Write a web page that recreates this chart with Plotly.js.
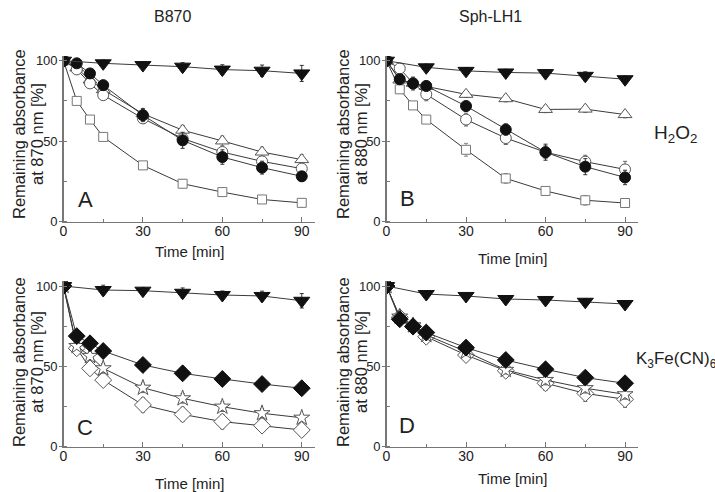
<!DOCTYPE html>
<html>
<head>
<meta charset="utf-8">
<script src="https://cdn.plot.ly/plotly-3.0.1.min.js"></script>
<style>html,body{margin:0;padding:0;background:#fff;}#chart{width:715px;height:492px;}</style>
</head>
<body>
<div id="chart"></div>
<script>
// ---- Data ----
const tFull = [0, 5, 10, 15, 30, 45, 60, 75, 90];
const tCtrl = [0, 15, 30, 45, 60, 75, 90];

// Panel A: B870, H2O2
const A_ctrl  = [100, 98.4, 97.3, 96.3, 94.5, 93.8, 92.1];
const A_fcirc = [100, 98.4, 92.1, 84.8, 66.1, 50.5, 40.1, 33.5, 28.1];
const A_ocirc = [100, 94.6, 85.9, 78.6, 64.1, 51.6, 43.2, 37.4, 32.9];
const A_otri  = [100, 95.5, 88.0, 82.0, 67.0, 56.8, 50.1, 43.2, 38.5];
const A_osq   = [100, 75.0, 63.4, 52.6, 34.9, 23.5, 18.3, 13.7, 11.6];
const A_ctrl_err  = [0, 2, 2, 2.5, 3, 3.5, 5];
const A_fcirc_err = [0, 1.5, 2.5, 3, 4, 5, 4.5, 4, 3];
const A_ocirc_err = [0, 2, 2, 2, 3, 3, 3, 3, 3];
const A_otri_err  = [0, 3, 2, 2, 3, 3, 3, 3, 3];
const A_osq_err   = [0, 1.5, 2, 2, 2, 2.5, 2, 2, 2.5];

// Panel B: Sph-LH1, H2O2
const B_ctrl  = [100, 95.9, 93.7, 92.7, 92.3, 90.6, 88.5];
const B_fcirc = [100, 88.5, 85.8, 84.3, 71.8, 57.2, 43.1, 34.1, 27.4];
const B_ocirc = [100, 95.2, 86.0, 79.1, 63.4, 51.9, 43.1, 37.2, 32.4];
const B_otri  = [100, 88.0, 86.0, 84.0, 79.1, 76.4, 69.7, 69.9, 66.5];
const B_osq   = [100, 82.2, 72.2, 63.4, 44.6, 26.8, 19.0, 13.2, 11.5];
const B_ctrl_err  = [0, 2, 2, 2, 2, 2.5, 2];
const B_fcirc_err = [0, 3, 4, 3, 3, 3.5, 5, 5, 4.5];
const B_ocirc_err = [0, 3, 3, 4, 4, 4, 4, 4, 5];
const B_otri_err  = [0, 2, 2, 2, 2, 2, 2, 2, 2];
const B_osq_err   = [0, 2, 2, 2, 4, 3, 2, 3, 2];

// Panel C: B870, K3Fe(CN)6
const C_ctrl = [100, 97.5, 97.1, 95.8, 94.4, 93.8, 90.8];
const C_fdia = [100, 68.8, 64.3, 59.5, 50.8, 45.6, 42.1, 38.9, 36.3];
const C_star = [100, 62.6, 56.4, 48.7, 36.6, 30.0, 24.8, 20.7, 17.9];
const C_odia = [100, 61.2, 48.7, 41.4, 25.9, 20.0, 15.5, 13.0, 10.3];
const C_ctrl_err = [0, 3, 2, 3, 2.5, 3, 4.5];
const C_fdia_err = [0, 2, 2, 2, 2, 2, 2, 2, 2];
const C_star_err = [0, 2, 2.5, 3, 3, 3, 3, 3, 2];
const C_odia_err = [0, 2, 2.5, 3, 4.5, 4.5, 4.5, 3.5, 3.5];

// Panel D: Sph-LH1, K3Fe(CN)6
const D_ctrl = [100, 95.0, 93.8, 91.9, 91.3, 90.2, 88.8];
const D_fdia = [100, 79.3, 74.7, 71.0, 61.6, 53.9, 48.1, 42.9, 39.4];
const D_star = [100, 80.9, 75.5, 69.5, 59.1, 47.7, 41.4, 36.3, 32.5];
const D_odia = [100, 80.5, 75.0, 68.4, 57.0, 47.2, 39.4, 33.1, 29.4];
const D_ctrl_err = [0, 2, 2, 2, 2, 2, 2];
const D_fdia_err = [0, 2, 2, 2, 2, 2, 2, 2, 2];
const D_star_err = [0, 2, 2, 2, 2, 2.5, 3, 3, 3];
const D_odia_err = [0, 2, 2, 2, 3, 3, 4.5, 5, 5];

const colTitles = ['B870', 'Sph-LH1'];
const rowLabels = ['H<sub>2</sub>O<sub>2</sub>', 'K<sub>3</sub>Fe(CN)<sub>6</sub>'];
const panelLetters = ['A', 'B', 'C', 'D'];
const yTitle1 = 'Remaining absorbance';
const yTitle2 = ['at 870 nm [%]', 'at 880 nm [%]'];
const xTitle = 'Time [min]';

// ---- Styles ----
const LINE = '#3a3a3a';
const FONT = 'Liberation Sans, Arial, sans-serif';
const TXT = '#222';

const M = {
  ctrl:  {symbol: 'triangle-down', size: 14, color: '#111', line: {color: '#111', width: 1}},
  fcirc: {symbol: 'circle', size: 11, color: '#111', line: {color: '#111', width: 1}},
  ocirc: {symbol: 'circle', size: 11, color: '#fff', line: {color: '#555', width: 1}},
  otri:  {symbol: 'triangle-up', size: 12, color: '#fff', line: {color: '#555', width: 1}},
  osq:   {symbol: 'square', size: 9, color: '#fff', line: {color: '#777', width: 1}},
  fdia:  {symbol: 'diamond', size: 13, color: '#111', line: {color: '#111', width: 1}},
  star:  {symbol: 'star', size: 12, color: '#fff', line: {color: '#555', width: 1}},
  odia:  {symbol: 'diamond', size: 13, color: '#fff', line: {color: '#555', width: 1}}
};

function series(x, y, err, m, ax, errCol) {
  return {
    type: 'scatter', mode: 'lines+markers', x: x, y: y,
    xaxis: 'x' + ax, yaxis: 'y' + ax, cliponaxis: true,
    line: {color: LINE, width: 1},
    marker: m,
    error_y: {type: 'data', array: err, visible: true, color: errCol, thickness: 1, width: 2}
  };
}

const data = [
  series(tFull, A_osq, A_osq_err, M.osq, '', '#888'),
  series(tFull, A_otri, A_otri_err, M.otri, '', '#666'),
  series(tFull, A_ocirc, A_ocirc_err, M.ocirc, '', '#666'),
  series(tFull, A_fcirc, A_fcirc_err, M.fcirc, '', '#333'),
  series(tCtrl, A_ctrl, A_ctrl_err, M.ctrl, '', '#333'),

  series(tFull, B_osq, B_osq_err, M.osq, '2', '#888'),
  series(tFull, B_otri, B_otri_err, M.otri, '2', '#666'),
  series(tFull, B_ocirc, B_ocirc_err, M.ocirc, '2', '#666'),
  series(tFull, B_fcirc, B_fcirc_err, M.fcirc, '2', '#333'),
  series(tCtrl, B_ctrl, B_ctrl_err, M.ctrl, '2', '#333'),

  series(tFull, C_odia, C_odia_err, M.odia, '3', '#666'),
  series(tFull, C_star, C_star_err, M.star, '3', '#666'),
  series(tFull, C_fdia, C_fdia_err, M.fdia, '3', '#333'),
  series(tCtrl, C_ctrl, C_ctrl_err, M.ctrl, '3', '#333'),

  series(tFull, D_odia, D_odia_err, M.odia, '4', '#666'),
  series(tFull, D_star, D_star_err, M.star, '4', '#666'),
  series(tFull, D_fdia, D_fdia_err, M.fdia, '4', '#333'),
  series(tCtrl, D_ctrl, D_ctrl_err, M.ctrl, '4', '#333')
];

const W = 715, H = 492;
function xd(a, b) { return [a / W, b / W]; }
function yd(top, bot) { return [1 - bot / H, 1 - top / H]; }

function xa(domain, anchor) {
  return {
    domain: domain, anchor: anchor, range: [0, 95], tick0: 0, dtick: 30,
    ticks: 'inside', ticklen: 5, tickwidth: 1, tickcolor: '#777',
    minor: {dtick: 15, ticks: 'inside', ticklen: 3, tickcolor: '#777'},
    showline: true, linecolor: '#777', linewidth: 1.3,
    showgrid: false, zeroline: false, ticklabelstandoff: -4,
    tickfont: {family: FONT, size: 14, color: TXT}
  };
}
function ya(domain, anchor) {
  return {
    domain: domain, anchor: anchor, range: [0, 103], tick0: 0, dtick: 50,
    ticks: 'outside', ticklen: 3, tickwidth: 1, tickcolor: '#777',
    minor: {dtick: 25, ticks: 'inside', ticklen: 3, tickcolor: '#777'},
    showline: true, linecolor: '#777', linewidth: 1.3,
    showgrid: false, zeroline: false, ticklabelstandoff: -1,
    tickfont: {family: FONT, size: 13, color: TXT}
  };
}

const xL = xd(63.5, 315), xR = xd(386.5, 638.3);
const yT = yd(55.9, 221.5), yB = yd(281.2, 446.5);

function ann(text, x, y, size, extra) {
  return Object.assign({text: text, x: x / W, y: 1 - y / H, xref: 'paper', yref: 'paper',
    showarrow: false, xanchor: 'center', yanchor: 'middle',
    font: {family: FONT, size: size, color: TXT}}, extra || {});
}

const annotations = [
  ann(colTitles[0], 172, 17, 16),
  ann(colTitles[1], 490, 17, 16),
  ann(rowLabels[0], 652, 134, 19, {xanchor: 'left'}),
  ann(rowLabels[1], 634, 360, 17, {xanchor: 'left'}),
  ann(panelLetters[0], 85, 199, 22),
  ann(panelLetters[1], 407, 198, 22),
  ann(panelLetters[2], 85, 427, 22),
  ann(panelLetters[3], 407, 425, 22),
  ann(xTitle, 189, 251, 15),
  ann(xTitle, 512, 258, 15),
  ann(xTitle, 189, 483, 15),
  ann(xTitle, 512, 478, 15),
  ann(yTitle1, 19, 134, 16.5, {textangle: -90}),
  ann(yTitle2[0], 37, 134, 16.5, {textangle: -90}),
  ann(yTitle1, 343, 134, 16.5, {textangle: -90}),
  ann(yTitle2[1], 361, 134, 16.5, {textangle: -90}),
  ann(yTitle1, 19, 362, 16.5, {textangle: -90}),
  ann(yTitle2[0], 37, 362, 16.5, {textangle: -90}),
  ann(yTitle1, 343, 362, 16.5, {textangle: -90}),
  ann(yTitle2[1], 361, 362, 16.5, {textangle: -90})
];

const layout = {
  width: W, height: H, margin: {l: 0, r: 0, t: 0, b: 0},
  paper_bgcolor: '#fff', plot_bgcolor: '#fff', showlegend: false,
  xaxis: xa(xL, 'y'), yaxis: ya(yT, 'x'),
  xaxis2: xa(xR, 'y2'), yaxis2: ya(yT, 'x2'),
  xaxis3: xa(xL, 'y3'), yaxis3: ya(yB, 'x3'),
  xaxis4: xa(xR, 'y4'), yaxis4: ya(yB, 'x4'),
  annotations: annotations
};

Plotly.newPlot('chart', data, layout, {displayModeBar: false, staticPlot: true});
</script>
</body>
</html>
